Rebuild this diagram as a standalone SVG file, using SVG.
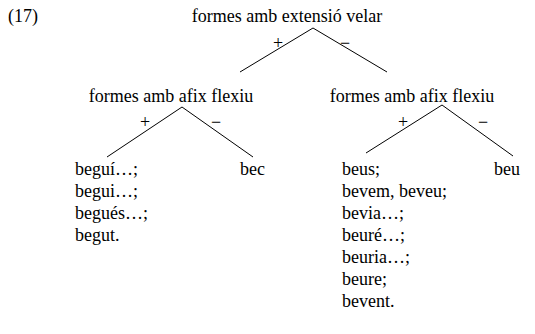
<svg xmlns="http://www.w3.org/2000/svg" width="535" height="334" viewBox="0 0 535 334">
<style>
text{font-family:"Liberation Serif","Times New Roman",serif;font-size:18px;fill:#000}
.sg{font-size:18px}
line{stroke:#000;stroke-width:1}
</style>
<rect width="535" height="334" fill="#fff"/>
<text x="8" y="22">(17)</text>
<g id="connectors">
<line x1="313" y1="28" x2="240" y2="72"/>
<line x1="313" y1="28" x2="387" y2="72"/>
<line x1="182" y1="107" x2="107" y2="157"/>
<line x1="182" y1="107" x2="253" y2="157"/>
<line x1="442" y1="105" x2="366" y2="153"/>
<line x1="442" y1="105" x2="513" y2="156"/>
<text class="sg" x="278" y="49" text-anchor="middle">+</text>
<text class="sg" x="345" y="49" text-anchor="middle">−</text>
<text class="sg" x="145" y="128" text-anchor="middle">+</text>
<text class="sg" x="216" y="128" text-anchor="middle">−</text>
<text class="sg" x="403" y="128" text-anchor="middle">+</text>
<text class="sg" x="483" y="128" text-anchor="middle">−</text>
</g>
<g id="root"><text x="287" y="22" text-anchor="middle">formes amb extensió velar</text></g>
<g id="left"><text x="171" y="102" text-anchor="middle">formes amb afix flexiu</text></g>
<g id="right"><text x="412" y="102" text-anchor="middle">formes amb afix flexiu</text></g>
<g id="left-plus">
<text x="75" y="175">beguí…;</text>
<text x="75" y="197">begui…;</text>
<text x="75" y="219">begués…;</text>
<text x="75" y="241">begut.</text>
</g>
<g id="left-minus"><text x="240" y="175">bec</text></g>
<g id="right-plus">
<text x="342" y="175">beus;</text>
<text x="342" y="197">bevem, beveu;</text>
<text x="342" y="219">bevia…;</text>
<text x="342" y="241">beuré…;</text>
<text x="342" y="263">beuria…;</text>
<text x="342" y="285">beure;</text>
<text x="342" y="307">bevent.</text>
</g>
<g id="right-minus"><text x="494" y="175">beu</text></g>
</svg>
